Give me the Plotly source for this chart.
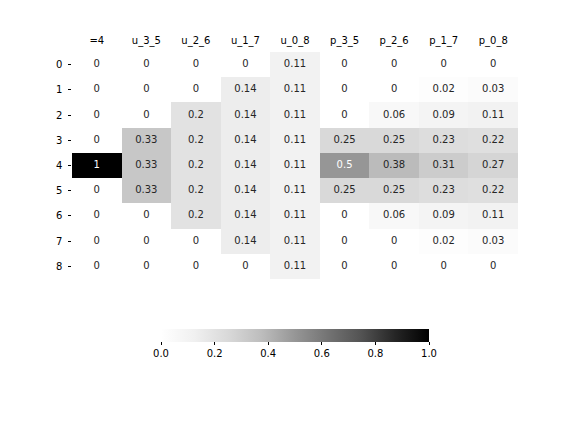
import plotly.graph_objects as go

cols = ["=4", "u_3_5", "u_2_6", "u_1_7", "u_0_8", "p_3_5", "p_2_6", "p_1_7", "p_0_8"]
rows = ["0", "1", "2", "3", "4", "5", "6", "7", "8"]

c_eq4  = [0, 0, 0, 0, 1, 0, 0, 0, 0]
c_u35  = [0, 0, 0, 0.33, 0.33, 0.33, 0, 0, 0]
c_u26  = [0, 0, 0.2, 0.2, 0.2, 0.2, 0.2, 0, 0]
c_u17  = [0, 0.14, 0.14, 0.14, 0.14, 0.14, 0.14, 0.14, 0]
c_u08  = [0.11, 0.11, 0.11, 0.11, 0.11, 0.11, 0.11, 0.11, 0.11]
c_p35  = [0, 0, 0, 0.25, 0.5, 0.25, 0, 0, 0]
c_p26  = [0, 0, 0.06, 0.25, 0.38, 0.25, 0.06, 0, 0]
c_p17  = [0, 0.02, 0.09, 0.23, 0.31, 0.23, 0.09, 0.02, 0]
c_p08  = [0, 0.03, 0.11, 0.22, 0.27, 0.22, 0.11, 0.03, 0]

columns = [c_eq4, c_u35, c_u26, c_u17, c_u08, c_p35, c_p26, c_p17, c_p08]
z = [[columns[j][i] for j in range(len(cols))] for i in range(len(rows))]

greys = [[0.0, "#ffffff"], [0.125, "#f0f0f0"], [0.25, "#d9d9d9"], [0.375, "#bdbdbd"],
         [0.5, "#969696"], [0.625, "#737373"], [0.75, "#525252"], [0.875, "#252525"],
         [1.0, "#000000"]]

fig = go.Figure()
fig.add_trace(go.Heatmap(
    z=z, x=cols, y=rows, colorscale=greys, zmin=0, zmax=1, xgap=0, ygap=0,
    hoverinfo="skip",
    colorbar=dict(orientation="h", x=0.5, xanchor="center", y=-0.22, yanchor="top",
                  ypad=0, xpad=0, len=268, lenmode="pixels", thickness=13,
                  outlinewidth=0, tickvals=[0, 0.2, 0.4, 0.6, 0.8, 1.0],
                  ticktext=["0.0", "0.2", "0.4", "0.6", "0.8", "1.0"],
                  ticks="outside", ticklen=3.5, tickcolor="black",
                  tickfont=dict(family="DejaVu Sans", size=10, color="black")),
))

tx, ty, tt, tc = [], [], [], []
for i, r in enumerate(rows):
    for j, c in enumerate(cols):
        v = z[i][j]
        tx.append(c); ty.append(r)
        tt.append("{:g}".format(v))
        tc.append("white" if v >= 0.5 else "#262626")
fig.add_trace(go.Scatter(x=tx, y=ty, mode="text", text=tt,
                         textfont=dict(family="DejaVu Sans", size=10, color=tc),
                         hoverinfo="skip", showlegend=False))

fig.update_layout(
    width=576, height=432, margin=dict(l=64, r=66, t=44, b=161),
    paper_bgcolor="white", plot_bgcolor="white", showlegend=False,
    font=dict(family="DejaVu Sans", size=10, color="black"),
)
fig.update_xaxes(side="top", showgrid=False, zeroline=False, showline=False,
                 ticks="", ticklabelstandoff=5, tickfont=dict(size=10, color="black"))
fig.update_yaxes(autorange="reversed", showgrid=False, zeroline=False, showline=False,
                 ticks="outside", ticklen=3.5, tickcolor="black", ticksuffix=" ",
                 tickfont=dict(size=10, color="black"))

fig.write_html("out.html")
